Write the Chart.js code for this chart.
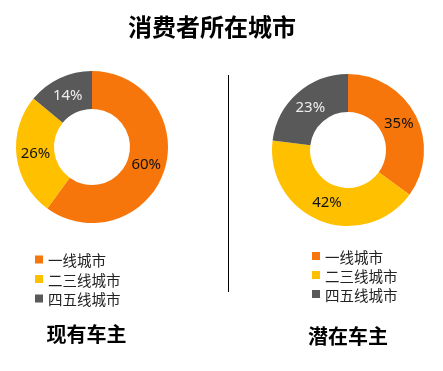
<!DOCTYPE html>
<html>
<head>
<meta charset="utf-8">
<script src="https://cdn.jsdelivr.net/npm/chart.js@4.4.1/dist/chart.umd.min.js"></script>
<style>
  html, body { margin: 0; padding: 0; background: #fff; }
  #wrap { position: relative; width: 443px; height: 371px; overflow: hidden; }
  #wrap canvas { position: absolute; left: 0; top: 0; }
</style>
</head>
<body>
<div id="wrap">
  <canvas id="ownerChart" width="443" height="371"></canvas>
  <canvas id="prospectChart" width="443" height="371"></canvas>
</div>
<script>
  // data
  var titleText = '消费者所在城市';
  var cityLabels = ['一线城市', '二三线城市', '四五线城市'];
  var ownerValues = [60, 26, 14];
  var prospectValues = [35, 42, 23];
  var groupNames = ['现有车主', '潜在车主'];

  var sliceColors = ['#F6760B', '#FFC000', '#595959'];
  var labelColors = ['#111', '#111', '#eeeeee'];

  var cjk = '"Noto Sans CJK SC", "Noto Sans", sans-serif';

  // percent labels on the slices + legend + group name
  var decorPlugin = {
    id: 'decor',
    afterDatasetsDraw: function(chart, args, opts) {
      var ctx = chart.ctx;
      var meta = chart.getDatasetMeta(0);
      var values = chart.data.datasets[0].data;
      ctx.save();
      ctx.font = '15px "Noto Sans", sans-serif';
      ctx.textAlign = 'center';
      ctx.textBaseline = 'middle';
      meta.data.forEach(function(arc, i) {
        var p = arc.tooltipPosition();
        ctx.fillStyle = labelColors[i];
        ctx.fillText(values[i] + '%', p.x, p.y);
      });

      // legend
      ctx.font = '14.5px ' + cjk;
      ctx.textAlign = 'left';
      chart.data.labels.forEach(function(lbl, i) {
        var y = opts.legendY + i * opts.legendGap;
        ctx.fillStyle = sliceColors[i];
        ctx.fillRect(opts.legendX, y - 4, 8, 8);
        ctx.fillStyle = '#222';
        ctx.fillText(lbl, opts.legendX + 13, y + 1);
      });

      // group name
      ctx.font = 'bold 20px ' + cjk;
      ctx.textAlign = 'center';
      ctx.fillStyle = '#000';
      ctx.fillText(opts.name, opts.nameX, opts.nameY);

      if (opts.mainTitle) {
        ctx.font = 'bold 24px ' + cjk;
        ctx.fillText(opts.mainTitle, 212, 27);
        // divider
        ctx.strokeStyle = '#000';
        ctx.lineWidth = 1;
        ctx.beginPath();
        ctx.moveTo(228.5, 75);
        ctx.lineTo(228.5, 292);
        ctx.stroke();
      }
      ctx.restore();
    }
  };

  function makeChart(id, values, padding, decor) {
    return new Chart(document.getElementById(id), {
      type: 'doughnut',
      data: {
        labels: cityLabels,
        datasets: [{
          data: values,
          backgroundColor: sliceColors,
          borderWidth: 0
        }]
      },
      options: {
        responsive: false,
        animation: false,
        cutout: '50%',
        layout: { padding: padding },
        events: [],
        plugins: {
          legend: { display: false },
          tooltip: { enabled: false },
          decor: decor
        }
      },
      plugins: [decorPlugin]
    });
  }

  makeChart('ownerChart', ownerValues,
    { left: 15, right: 274, top: 71, bottom: 148 },
    { legendX: 35, legendY: 259.5, legendGap: 19.5, name: groupNames[0], nameX: 86.5, nameY: 334, mainTitle: titleText });

  makeChart('prospectChart', prospectValues,
    { left: 272, right: 19, top: 74, bottom: 145 },
    { legendX: 312, legendY: 256, legendGap: 19, name: groupNames[1], nameX: 348, nameY: 336 });
</script>
</body>
</html>
